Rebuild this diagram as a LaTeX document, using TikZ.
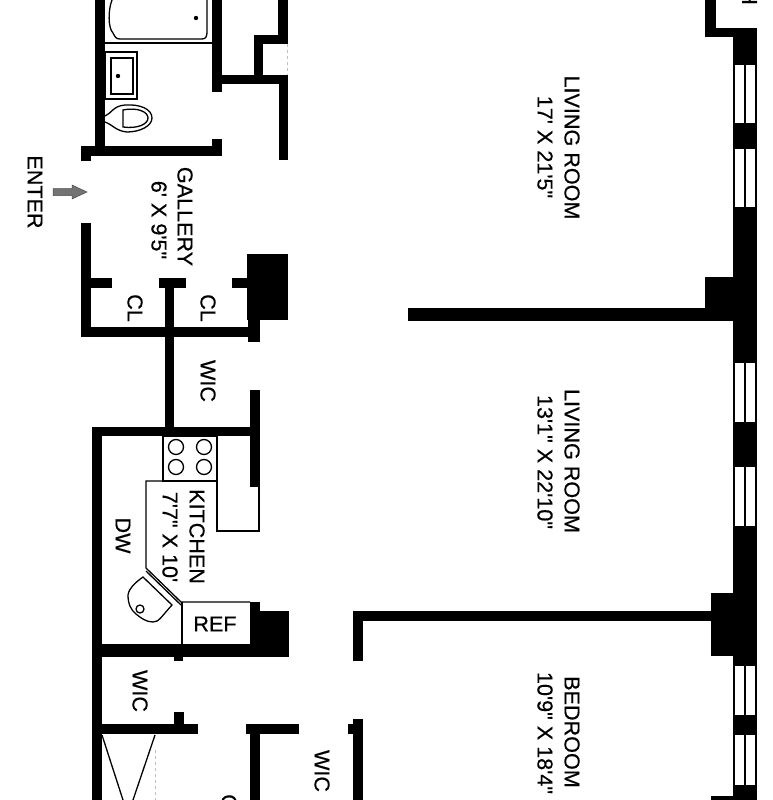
\documentclass[tikz,border=0pt]{standalone}
\usepackage{fontspec}
\newfontfamily\planfont{Liberation Sans}[FakeBold=0.5]
\newfontfamily\planfontnk{Liberation Sans}[FakeBold=0.5,Kerning=Off]
\tikzset{
  wall/.style={fill=black,draw=none},
  fixture/.style={draw=black,line width=1.3pt,fill=none},
  label/.style={font=\planfont\fontsize{21.6}{22}\selectfont,inner sep=0pt,rotate=-90,text=black},
  labelnk/.style={font=\planfontnk\fontsize{21.6}{22}\selectfont,inner sep=0pt,rotate=-90,text=black},
  hlabel/.style={font=\planfont\fontsize{21.6}{22}\selectfont,inner sep=0pt,text=black},
  hint/.style={draw=black!25,line width=1pt,dashed},
  pane/.style={fill=white,draw=none}
}
\begin{document}
\begin{tikzpicture}[x=1pt,y=-1pt]
\useasboundingbox (0,0) rectangle (773,800);
\fill[white] (0,0) rectangle (773,800);
% walls: bath
\fill[wall] (95,0) rectangle (105,150);
\fill[wall] (81,146) rectangle (222,156);
\fill[wall] (81,146) rectangle (91,161);
\fill[wall] (212,139) rectangle (222,156);
\fill[wall] (212,0) rectangle (222,92);
\fill[wall] (212,75) rectangle (288,84);
\fill[wall] (279,75) rectangle (288,160);
\fill[wall] (278,0) rectangle (288,44);
\fill[wall] (254,35) rectangle (288,44);
\fill[wall] (254,35) rectangle (263,84);
\draw[hint] (287,44) -- (287,75);
% gallery and closets
\fill[wall] (81,223) rectangle (91,337);
\fill[wall] (81,327) rectangle (260,337);
\fill[wall] (91,278) rectangle (112,288);
\fill[wall] (159,278) rectangle (186,288);
\fill[wall] (165,288) rectangle (174,427);
\fill[wall] (232,278) rectangle (247,288);
\fill[wall] (247,254) rectangle (288,320);
\fill[wall] (248,320) rectangle (260,342);
% kitchen
\fill[wall] (250,390) rectangle (260,487);
\fill[wall] (92,427) rectangle (260,436);
\fill[wall] (92,427) rectangle (102,800);
\fill[wall] (92,644) rectangle (289,657);
\fill[wall] (250,602) rectangle (260,645);
\fill[wall] (250,611) rectangle (289,657);
\fill[wall] (174,657) rectangle (183,661);
% lower rooms
\fill[wall] (92,724) rectangle (198,734);
\fill[wall] (174,712) rectangle (184,724);
\fill[wall] (246,724) rectangle (299,734);
\fill[wall] (250,734) rectangle (260,800);
\fill[wall] (353,719) rectangle (363,800);
\fill[wall] (348,724) rectangle (353,734);
\fill[wall] (353,611) rectangle (363,661);
\fill[wall] (353,611) rectangle (711,621);
% living room partition
\fill[wall] (408,308) rectangle (733,321);
\fill[wall] (705,277) rectangle (733,321);
\fill[wall] (711,593) rectangle (733,656);
\fill[wall] (711,796) rectangle (733,800);
% window wall
\fill[wall] (705,0) rectangle (716,37);
\fill[wall] (705,28) rectangle (757,37);
\fill[wall] (733,28) rectangle (757,800);
\foreach \a/\b in {65/123,149/207,363/422,467/526,666/715,735/785}{
  \fill[pane] (735,\a) rectangle (744,\b);
  \fill[pane] (746,\a) rectangle (755,\b);
}
% tub
\draw[fixture] (105,43) -- (212,43);
\draw[fixture] (112,0) .. controls (108,10) and (108,28) .. (113,33) .. controls (115,37) and (116,39) .. (120,39) -- (202,39) .. controls (206,39) and (207,36) .. (207,32) -- (207,0);
\fill (196,18) circle (2.2);
% basin
\draw[fixture] (105,52) rectangle (137,99);
\draw[fixture] (111,58) rectangle (133,94);
\fill (118,76) circle (2.2);
% toilet
\draw[fixture] (105,116) .. controls (112,113) and (113,106) .. (125,105) .. controls (140,104) and (152,109) .. (152,118) .. controls (152,126) and (140,132) .. (127,132) .. controls (116,131) and (113,125) .. (105,122);
\draw[fixture] (123,110) .. controls (138,107) and (148,112) .. (148,118) .. controls (148,124) and (138,129) .. (123,127) -- cycle;
% arrow
\fill[black!55,draw=black!70,line width=.5pt] (53,188.5) -- (72,188.5) -- (72,185) -- (87,192) -- (72,199) -- (72,195.5) -- (53,195.5) -- cycle;
% stove
\draw[fixture] (163,436) rectangle (217,481);
\foreach \p in {(176,447),(204,447),(176,467),(204,467)} \draw[fixture] \p circle (7.5);
% counters
\draw[fixture] (217,481) -- (146,481) -- (146,568) -- (181,602) -- (250,602);
\draw[fixture] (182,602) -- (182,645);
\draw[fixture] (217,481) -- (217,531) -- (259,531) -- (259,487);
\draw[fixture] (146,571) -- (181,605);
% kitchen sink
\draw[fixture] (143,577) .. controls (136,582) and (129,588) .. (128,595) .. controls (128,604) and (131,610) .. (136,614) .. controls (141,618) and (146,622) .. (153,622) .. controls (159,622) and (161,617) .. (172,605) -- cycle;
\draw[fixture] (140,609) circle (4);
% shower
\draw[fixture] (102,735) -- (123,800);
\draw[fixture] (155,735) -- (133,800);
\draw[hint] (155,750) -- (155,800);
% labels
\node[label] (enter) at (35,192) {ENTER};
\node[label] (gal) at (185,216.5) {GALLERY};
\node[label] (galsize) at (159,220) {6' X 9'5"};
\node[label] (cl1) at (135,308) {CL};
\node[label] (cl2) at (208,308) {CL};
\node[label] (wic1) at (208,381) {WIC};
\node[label] (kit) at (197,536.5) {KITCHEN};
\node[label] (kitsize) at (170,537) {7'7" X 10'};
\node[label] (dw) at (123,535.5) {DW};
\node[hlabel] (ref) at (215,624) {REF};
\node[label] (wic2) at (140,691) {WIC};
\node[label] (wic3) at (322,771) {WIC};
\node[label] (lr1) at (572,147.5) {LIVING ROOM};
\node[label] (lr1s) at (545,147) {17' X 21'5"};
\node[label] (lr2) at (572,461) {LIVING ROOM};
\node[labelnk] (lr2s) at (545,462) {13'1" X 22'10"};
\node[label] (bed) at (572,732) {BEDROOM};
\node[label] (beds) at (545,733) {10'9" X 18'4"};
\node[label] (cut1) at (229,802) {C};
\node[label] (cut2) at (749.5,-3) {H};
\end{tikzpicture}
\end{document}
